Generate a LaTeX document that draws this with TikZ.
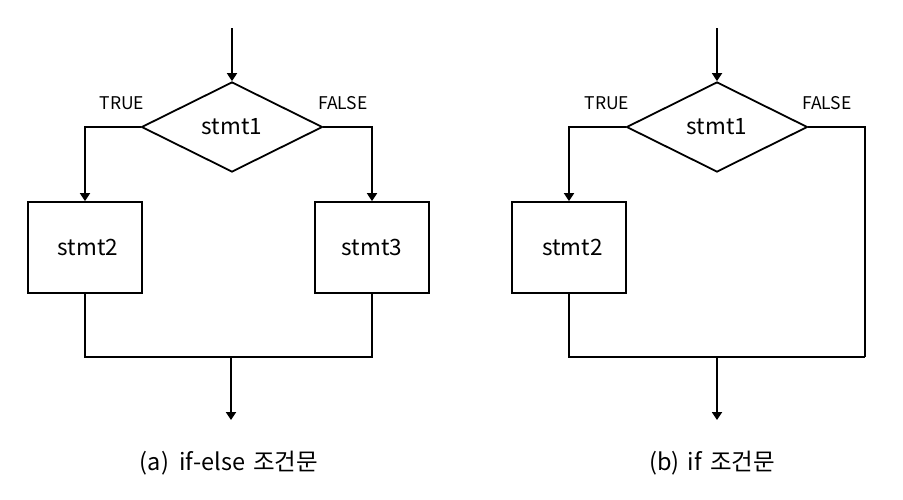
\documentclass[tikz,border=0pt]{standalone}
\usepackage{fontspec}
\setmainfont{Noto Sans CJK KR}
\usetikzlibrary{shapes.geometric,arrows.meta}
\begin{document}
\begin{tikzpicture}[x=1pt,y=-1pt,line width=1.8pt,
  dec/.style={diamond,draw,minimum width=181pt,minimum height=90pt,inner sep=0pt,font=\fontsize{22.5}{26}\selectfont},
  stmtbox/.style={rectangle,draw,minimum width=114pt,minimum height=91pt,inner sep=0pt,font=\fontsize{22.5}{26}\selectfont},
  lbl/.style={font=\fontsize{17.5}{20}\selectfont},
  captxt/.style={font=\fontsize{23.5}{27}\selectfont},
  arr/.style={-{Triangle[width=10pt,length=8pt]}}]
\fill[white] (0,0) rectangle (903,499);
\useasboundingbox (0,0) rectangle (903,499);
% (a) if-else
\coordinate (a0) at (232,28);
\node[dec] (a1) at (232,127) {stmt1};
\node[stmtbox] (a2) at (85,247.5) {\hspace*{6pt}stmt2};
\node[stmtbox] (a3) at (372,247.5) {stmt3};
\coordinate (am) at (231,357);
\coordinate (aend) at (231,420);
\node[lbl] (at) at (122,103) {TRUE};
\node[lbl] (af) at (343,103) {FALSE};
\draw[arr] (a0) -- (a1.north);
\draw[arr] (a1.west) -| (a2.north);
\draw[arr] (a1.east) -| (a3.north);
\draw (a2.south) |- (am);
\draw (a3.south) |- (am);
\draw[arr] (am) -- (aend);
\node[captxt] (acap) at (229,463) {(a)\ \ if-else\hspace{0.35em}조건문};
% (b) if
\coordinate (b0) at (717,28);
\node[dec] (b1) at (717,127) {stmt1};
\node[stmtbox] (b2) at (569,247.5) {\hspace*{7pt}stmt2};
\coordinate (bf) at (865,357);
\coordinate (bm) at (717,357);
\coordinate (bend) at (717,420);
\node[lbl] (bt) at (607,103) {TRUE};
\node[lbl] (bfl) at (827,103) {FALSE};
\draw[arr] (b0) -- (b1.north);
\draw[arr] (b1.west) -| (b2.north);
\draw (b1.east) -| (bf);
\draw (b2.south) |- (bf);
\draw[arr] (bm) -- (bend);
\node[captxt] (bcap) at (712,463) {(b)\hspace{0.35em}if\hspace{0.35em}조건문};
\end{tikzpicture}
\end{document}
